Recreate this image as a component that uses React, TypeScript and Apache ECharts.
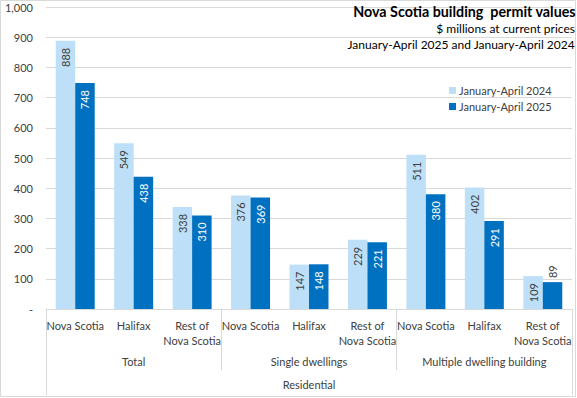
import React, { useEffect, useRef } from "react";
import * as echarts from "echarts";

const categories = ["Nova Scotia", "Halifax", "Rest of\nNova Scotia", "Nova Scotia", "Halifax", "Rest of\nNova Scotia", "Nova Scotia", "Halifax", "Rest of\nNova Scotia"];
const groups = ["Total", "Single dwellings", "Multiple dwelling building"];
const topGroups = ["Residential"];
const seriesNames = ["January-April 2024", "January-April 2025"];
const values2024 = [888, 549, 338, 376, 147, 229, 511, 402, 109];
const values2025 = [748, 438, 310, 369, 148, 221, 380, 291, 89];
const titleLines = ["Nova Scotia building  permit values", "$ millions at current prices", "January-April 2025 and January-April 2024"];

const FONT = "Lato";
const LIGHT = "#BDE0F8";
const DARK = "#0070C0";
const GRIDC = "#D9D9D9";
const TXT = "#404040";

export default function App() {
  const ref = useRef<HTMLDivElement>(null);
  useEffect(() => {
    const chart = echarts.init(ref.current!, null, { renderer: "svg" });
    const gridPos = { left: 46, right: 5, top: 7, bottom: 89 };
    const labelBase = {
      show: true,
      position: "insideTop",
      rotate: 90,
      align: "right",
      verticalAlign: "middle",
      distance: 7,
      fontSize: 11,
      fontFamily: FONT,
    };
    const mk = (vals: number[]) =>
      vals.map((v) =>
        v < 100
          ? { value: v, label: { position: "top", align: "left", distance: 4, color: TXT } }
          : v
      );
    chart.setOption({
      animation: false,
      textStyle: { fontFamily: FONT },
      title: [
        { text: titleLines[0], right: 1, top: 4, padding: 0, textStyle: { fontSize: 14.3, fontWeight: "bold", color: "#000", fontFamily: FONT } },
        { text: titleLines[1], right: 2, top: 22, padding: 0, textStyle: { fontSize: 12, fontWeight: "normal", color: "#000", fontFamily: FONT } },
        { text: titleLines[2], right: 2, top: 38, padding: 0, textStyle: { fontSize: 12, fontWeight: "normal", color: "#000", fontFamily: FONT } },
      ],
      legend: {
        orient: "vertical",
        left: 444,
        top: 80,
        itemWidth: 7,
        itemHeight: 7,
        itemGap: 5,
        icon: "rect",
        textStyle: { fontSize: 11, color: TXT, fontFamily: FONT, padding: [0, 0, 0, -2] },
        data: seriesNames,
      },
      grid: [
        { ...gridPos },
        { ...gridPos },
        { ...gridPos },
      ],
      xAxis: [
        {
          type: "category",
          gridIndex: 0,
          data: categories,
          axisLine: { lineStyle: { color: GRIDC } },
          axisTick: { show: false },
          axisLabel: { color: TXT, fontSize: 11, fontFamily: FONT, margin: 9, interval: 0, lineHeight: 15 },
        },
        {
          type: "category",
          gridIndex: 1,
          data: groups,
          axisLine: { show: false },
          axisTick: { show: true, length: 61, lineStyle: { color: GRIDC } },
          axisLabel: { color: TXT, fontSize: 11, fontFamily: FONT, margin: 47, interval: 0 },
        },
        {
          type: "category",
          gridIndex: 2,
          data: topGroups,
          axisLine: { show: false },
          axisTick: { show: true, length: 86, lineStyle: { color: GRIDC } },
          axisLabel: { color: TXT, fontSize: 11, fontFamily: FONT, margin: 70, interval: 0 },
        },
      ],
      yAxis: [
        {
          type: "value",
          gridIndex: 0,
          min: 0,
          max: 1000,
          interval: 100,
          axisLine: { show: false },
          axisTick: { show: false },
          splitLine: { lineStyle: { color: GRIDC } },
          axisLabel: {
            color: TXT,
            fontSize: 11,
            fontFamily: FONT,
            margin: 13,
            formatter: (v: number) => (v === 0 ? "-" : v.toLocaleString("en-US")),
          },
        },
        { type: "value", gridIndex: 1, show: false, min: 0, max: 1000 },
        { type: "value", gridIndex: 2, show: false, min: 0, max: 1000 },
      ],
      series: [
        {
          name: seriesNames[0],
          type: "bar",
          xAxisIndex: 0,
          yAxisIndex: 0,
          data: mk(values2024),
          itemStyle: { color: LIGHT },
          barWidth: 19.5,
          barGap: "0%",
          label: { ...labelBase, color: TXT },
        },
        {
          name: seriesNames[1],
          type: "bar",
          xAxisIndex: 0,
          yAxisIndex: 0,
          data: mk(values2025),
          itemStyle: { color: DARK },
          barWidth: 19.5,
          barGap: "0%",
          label: { ...labelBase, color: "#FFFFFF" },
        },
      ],
      graphic: [
        {
          type: "rect",
          shape: { x: 0.5, y: 0.5, width: 575, height: 396 },
          style: { fill: "none", stroke: GRIDC, lineWidth: 1 },
          silent: true,
        },
      ],
    });
    return () => chart.dispose();
  }, []);
  return (
    <div
      ref={ref}
      style={{ position: "absolute", left: 0, top: 0, width: 577, height: 398, background: "#fff" }}
    />
  );
}
